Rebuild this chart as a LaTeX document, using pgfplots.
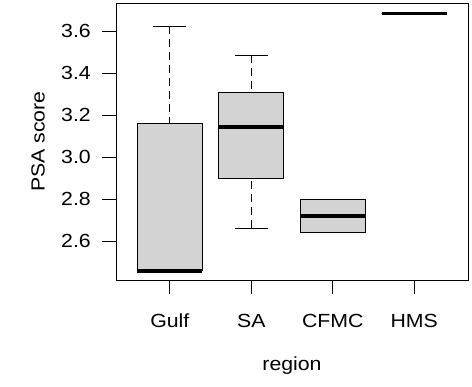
\documentclass[border=0pt]{standalone}
\usepackage{fontspec}
\setmainfont{Liberation Sans}[FakeStretch=1.12]
\usepackage{pgfplots}
\pgfplotsset{compat=1.18}
\usepgfplotslibrary{statistics}
\definecolor{boxgray}{RGB}{211,211,211}
\newcommand{\chartfont}{\fontsize{19bp}{23bp}\selectfont}
\begin{document}
\chartfont
\begin{tikzpicture}
\path[use as bounding box] (-116bp,-107bp) rectangle (356bp,280bp);
\begin{axis}[
  scale only axis, width=352bp, height=277bp,
  xmin=0.34, xmax=4.66, ymin=2.416, ymax=3.734,
  xtick={1,2,3,4}, xticklabels={Gulf,SA,CFMC,HMS},
  ytick={2.6,2.8,3.0,3.2,3.4,3.6},
  /pgf/number format/assume math mode=true,
  yticklabel style={/pgf/number format/fixed, /pgf/number format/fixed zerofill, /pgf/number format/precision=1, anchor=east, inner sep=0pt},
  yticklabel shift=11bp,
  tick align=outside, major tick length=14bp,
  xtick pos=bottom, ytick pos=left,
  tick style={black, line width=0.8bp},
  axis line style={line width=0.8bp},
  tick label style={font=\chartfont},
  label style={font=\chartfont},
  xticklabel style={anchor=base, inner sep=0pt, yshift=-33.7bp},
  xlabel={region}, ylabel={PSA score},
  xlabel style={at={(axis description cs:0.5,-0.3249)}, anchor=base, inner sep=0pt},
  ylabel style={at={(axis description cs:-0.2025,0.5)}, anchor=base, inner sep=0pt},
  boxplot/draw direction=y,
  boxplot/box extend=0.8,
  boxplot/whisker extend=0.4,
  boxplot/every box/.style={fill=boxgray, draw=black, line width=0.8bp},
  boxplot/every median/.style={line width=3.5bp},
  boxplot/draw/lower whisker/.code={%
    \draw[line width=0.8bp, dash pattern=on 8bp off 5bp] (boxplot box cs:\pgfplotsboxplotvalue{lower whisker},0.5) -- (boxplot box cs:\pgfplotsboxplotvalue{lower quartile},0.5);
    \draw[line width=0.8bp] (boxplot whisker cs:\pgfplotsboxplotvalue{lower whisker},0) -- (boxplot whisker cs:\pgfplotsboxplotvalue{lower whisker},1);
  },
  boxplot/draw/upper whisker/.code={%
    \draw[line width=0.8bp, dash pattern=on 8bp off 5bp] (boxplot box cs:\pgfplotsboxplotvalue{upper whisker},0.5) -- (boxplot box cs:\pgfplotsboxplotvalue{upper quartile},0.5);
    \draw[line width=0.8bp] (boxplot whisker cs:\pgfplotsboxplotvalue{upper whisker},0) -- (boxplot whisker cs:\pgfplotsboxplotvalue{upper whisker},1);
  },
]
% Gulf
\addplot[black, boxplot prepared={draw position=1, lower whisker=2.46, lower quartile=2.46, median=2.46, upper quartile=3.159, upper whisker=3.624}] coordinates {};
% SA
\addplot[black, boxplot prepared={draw position=2, lower whisker=2.662, lower quartile=2.899, median=3.145, upper quartile=3.309, upper whisker=3.486}] coordinates {};
% CFMC
\addplot[black, boxplot prepared={draw position=3, lower whisker=2.641, lower quartile=2.641, median=2.72, upper quartile=2.80, upper whisker=2.80}] coordinates {};
% HMS
\addplot[black, boxplot prepared={draw position=4, lower whisker=3.685, lower quartile=3.685, median=3.685, upper quartile=3.685, upper whisker=3.685}] coordinates {};
\end{axis}
\end{tikzpicture}
\end{document}
